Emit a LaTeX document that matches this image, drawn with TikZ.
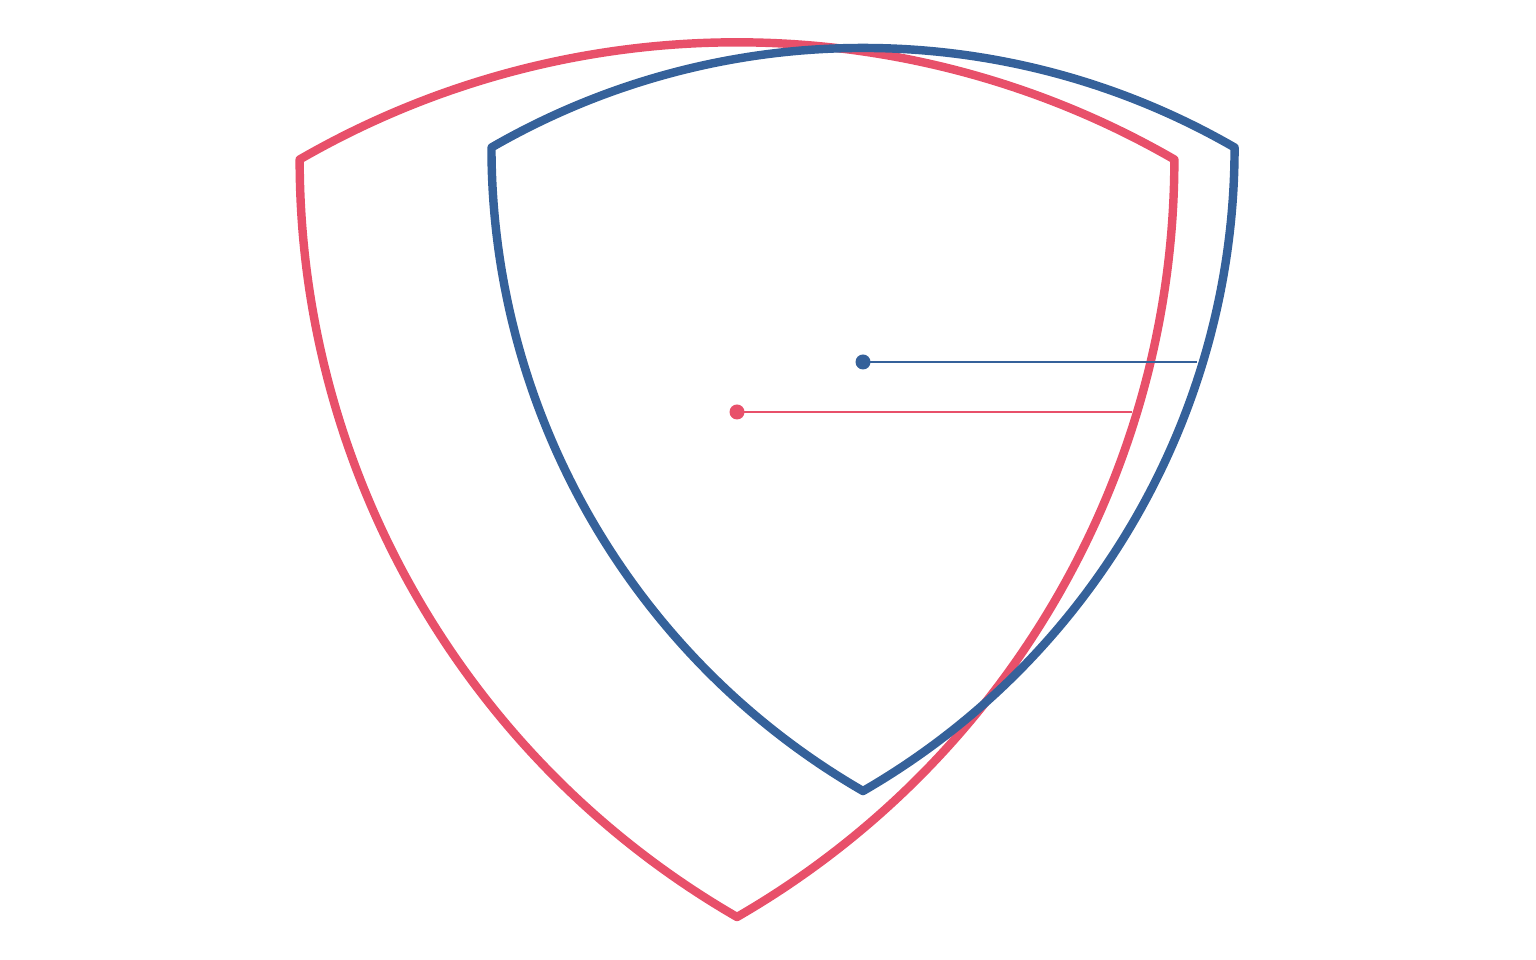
\documentclass[tikz,border=0pt]{standalone}
\usepackage{tikz}
\usetikzlibrary{calc}
\definecolor{Rose}{HTML}{E8506A}
\definecolor{Steel}{HTML}{35619A}
\tikzset{
  shield/.style={line width=4.8pt,line join=round,line cap=round},
  hub/.style={circle,fill,inner sep=0pt,minimum size=0.3cm},
  spoke/.style={line width=1.5pt}
}
\begin{document}
\begin{tikzpicture}[x=0.02cm,y=0.02cm]
    \useasboundingbox (0,0) rectangle (1536,960);
    % red shape: centre, circumradius, side
    \def\rr{505} \def\rs{874.7}
    \coordinate (rc) at (737,548);
    \draw[shield,draw=Rose] ($(rc)+(150:\rr)$) coordinate (rl)
      arc[start angle=120,end angle=60,radius=\rs] coordinate (rr)
      arc[start angle=0,end angle=-60,radius=\rs] coordinate (rb)
      arc[start angle=240,end angle=180,radius=\rs] -- cycle;
    \node[hub,fill=Rose] (rhub) at (rc) {};
    \coordinate (rend) at (1132,548);
    \draw[spoke,draw=Rose] (rhub.center)--(rend);
    % blue shape
    \def\br{429} \def\bs{743.1}
    \coordinate (bc) at (863,598);
    \draw[shield,draw=Steel] ($(bc)+(150:\br)$) coordinate (bl)
      arc[start angle=120,end angle=60,radius=\bs] coordinate (br)
      arc[start angle=0,end angle=-60,radius=\bs] coordinate (bb)
      arc[start angle=240,end angle=180,radius=\bs] -- cycle;
    \node[hub,fill=Steel] (bhub) at (bc) {};
    \coordinate (bend) at (1197,598);
    \draw[spoke,draw=Steel] (bhub.center)--(bend);
  \end{tikzpicture}
\end{document}
